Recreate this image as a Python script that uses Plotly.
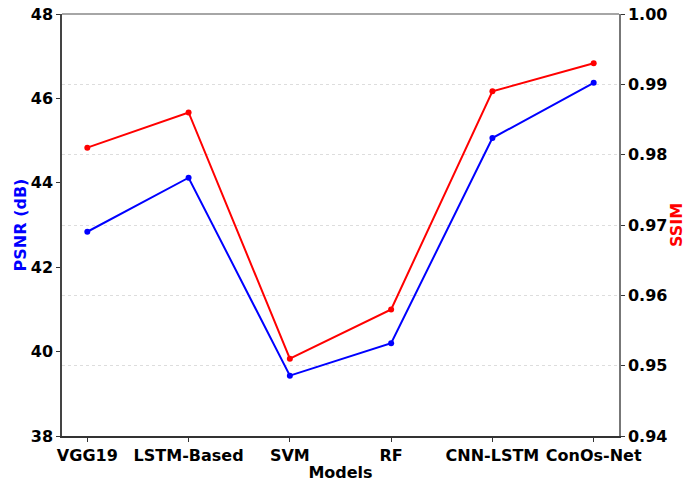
import plotly.graph_objects as go

models = ["VGG19", "LSTM-Based", "SVM", "RF", "CNN-LSTM", "ConOs-Net"]
psnr = [42.84, 44.12, 39.43, 40.20, 45.06, 46.37]
ssim = [0.981, 0.986, 0.951, 0.958, 0.989, 0.993]

left_ticks = [38, 40, 42, 44, 46, 48]
right_ticks = [0.94, 0.95, 0.96, 0.97, 0.98, 0.99, 1.00]

FONT = "DejaVu Sans"

fig = go.Figure()
fig.add_trace(go.Scatter(x=models, y=psnr, mode="lines+markers",
                         line=dict(color="#0000ff", width=2),
                         marker=dict(color="#0000ff", size=6),
                         yaxis="y", showlegend=False))
fig.add_trace(go.Scatter(x=models, y=ssim, mode="lines+markers",
                         line=dict(color="#ff0000", width=2),
                         marker=dict(color="#ff0000", size=6),
                         yaxis="y2", showlegend=False))

tickfont = dict(family=FONT, size=16, color="black", weight="bold")

fig.update_layout(
    width=695, height=482,
    margin=dict(l=62, r=76, t=14, b=46),
    plot_bgcolor="white", paper_bgcolor="white",
    xaxis=dict(
        type="category", range=[-0.25, 5.25], automargin=False,
        showgrid=False, zeroline=False,
        showline=True, linecolor="#333333", linewidth=1.5, mirror=False,
        ticks="outside", ticklen=4, tickcolor="#333333",
        tickfont=tickfont,
        title=dict(text="Models", font=dict(family=FONT, size=16, color="black", weight="bold"), standoff=0),
    ),
    yaxis=dict(
        range=[38, 48], tickvals=left_ticks, ticktext=[str(t) for t in left_ticks],
        automargin=False,
        showgrid=False, zeroline=False,
        showline=True, linecolor="#444444", linewidth=1.5,
        ticks="outside", ticklen=4, tickcolor="#333333",
        tickfont=tickfont,
        title=dict(text="PSNR (dB)", font=dict(family=FONT, size=16, color="#0000ff", weight="bold"), standoff=0),
    ),
    yaxis2=dict(
        overlaying="y", side="right",
        range=[0.94, 1.00], tickvals=right_ticks, ticktext=[f"{t:.2f}" for t in right_ticks],
        automargin=False,
        showgrid=True, gridcolor="#dddddd", griddash="dot", gridwidth=1,
        zeroline=False,
        showline=True, linecolor="#777777", linewidth=1.5,
        ticks="outside", ticklen=4, tickcolor="#333333",
        tickfont=tickfont,
        title=dict(text="SSIM", font=dict(family=FONT, size=16, color="#ff0000", weight="bold"), standoff=0),
    ),
    shapes=[dict(type="line", xref="paper", yref="paper", x0=0, x1=1, y0=1, y1=1,
                 line=dict(color="#888888", width=1.5))],
)

fig.write_html("out.html")
